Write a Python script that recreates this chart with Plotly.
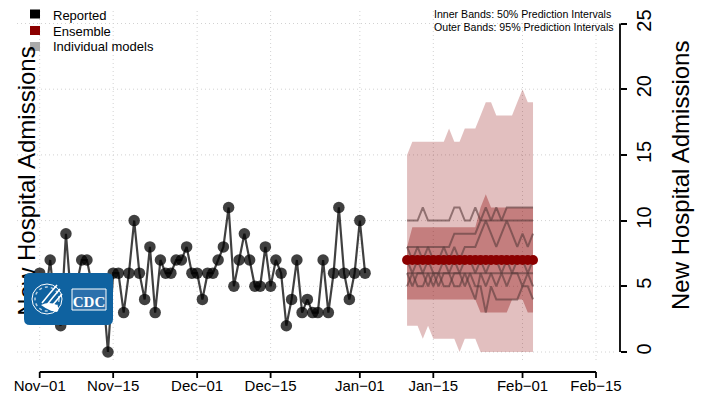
import pandas as pd
import plotly.graph_objects as go

# reported daily admissions, from Nov-01
reported = [6, 4, 7, 3, 2, 9, 4, 5, 7, 7, 5, 3, 5, 0, 6, 6, 3, 6, 10, 6,
            4, 8, 3, 7, 6, 6, 7, 7, 8, 6, 6, 4, 6, 6, 7, 8, 11, 5, 7, 9,
            7, 5, 5, 8, 5, 7, 6, 2, 4, 7, 3, 4, 3, 3, 7, 3, 6, 11, 6, 4,
            6, 10, 6]

# forecast, Jan-10 .. Feb-03
ensemble = [7] * 25
outer_upper = [15, 16, 16, 16, 16, 16, 16, 16, 17, 16, 16, 17, 17, 17, 18, 19, 19, 18, 18, 18, 18, 19, 20, 19, 19]
outer_lower = [2, 2, 2, 1, 2, 1, 1, 1, 1, 1, 0, 1, 1, 1, 0, 0, 0, 0, 0, 0, 0, 0, 0, 0, 0]
inner_upper = [8, 9.5, 9.5, 9.5, 9.5, 9.5, 9.5, 9.5, 9.5, 9.5, 9.5, 9.5, 9.5, 9.5, 11, 12, 11, 11, 11, 11, 11, 11, 11, 11, 11]
inner_lower = [4, 4, 4, 4, 4, 4, 4, 4, 4, 4, 4, 4, 4, 4, 3, 3, 3, 3, 3, 3, 4, 4, 4, 3, 3]

models = [
    [10, 10, 10, 11, 10, 10, 10, 10, 10, 11, 11, 10, 10, 11, 10, 11, 10, 11, 10, 11, 11, 11, 11, 11, 11],
    [8, 8, 8, 8, 8, 8, 8, 8, 8, 9, 9, 9, 9, 9, 10, 10, 10, 10, 10, 10, 10, 10, 10, 10, 10],
    [8, 7, 8, 7, 8, 7, 7, 8, 7, 8, 7, 8, 8, 8, 9, 10, 9, 8, 9, 10, 9, 8, 9, 8, 9],
    [7, 6, 7, 6, 7, 6, 6, 7, 6, 7, 6, 7, 7, 6, 7, 6, 7, 7, 6, 7, 6, 7, 7, 6, 7],
    [6] * 25,
    [5, 6, 5, 5, 6, 5, 6, 5, 5, 6, 6, 5, 6, 5, 5, 3, 5, 4, 4, 4, 4, 4, 5, 5, 4],
    [6, 5, 6, 6, 5, 6, 5, 6, 6, 5, 5, 6, 5, 4, 6, 5, 6, 5, 6, 5, 6, 6, 5, 6, 5],
]

tick_dates = ["2023-11-01", "2023-11-15", "2023-12-01", "2023-12-15",
              "2024-01-01", "2024-01-15", "2024-02-01", "2024-02-15"]
tick_text = ["Nov\u221201", "Nov\u221215", "Dec\u221201", "Dec\u221215",
             "Jan\u221201", "Jan\u221215", "Feb\u221201", "Feb\u221215"]
y_ticks = [0, 5, 10, 15, 20, 25]

start = pd.Timestamp("2023-11-01")
rep_dates = [start + pd.Timedelta(days=i) for i in range(len(reported))]
fc_dates = [pd.Timestamp("2024-01-10") + pd.Timedelta(days=i) for i in range(len(ensemble))]

FONT = "Liberation Sans, Arial, sans-serif"
OFF = 8  # page body margin
W, H = 707, 401
PL, PR, PT, PB = 17, 620, 8, 372


def px(x):
    return (x - PL) / (PR - PL)


def py(y):
    return (PB - y) / (PB - PT)


day_px = (596 - 39.7) / 106
x_range = [start - pd.Timedelta(days=(39.7 - PL) / day_px),
           pd.Timestamp("2024-02-15") + pd.Timedelta(days=(PR - 596) / day_px)]
unit_px = 13.14
y_range = [-(PB - 352) / unit_px, (352 - PT) / unit_px]

fig = go.Figure()

# prediction bands
fig.add_trace(go.Scatter(x=fc_dates + fc_dates[::-1], y=outer_upper + outer_lower[::-1],
                         fill="toself", fillcolor="rgba(139,0,0,0.25)", line=dict(width=0),
                         mode="lines", hoverinfo="skip", showlegend=False))
fig.add_trace(go.Scatter(x=fc_dates + fc_dates[::-1], y=inner_upper + inner_lower[::-1],
                         fill="toself", fillcolor="rgba(139,0,0,0.34)", line=dict(width=0),
                         mode="lines", hoverinfo="skip", showlegend=False))

# individual models
for m in models:
    fig.add_trace(go.Scatter(x=fc_dates, y=m, mode="lines",
                             line=dict(color="rgba(90,60,60,0.6)", width=2),
                             showlegend=False))

# ensemble
fig.add_trace(go.Scatter(x=fc_dates, y=ensemble, mode="lines+markers",
                         line=dict(color="#8B0000", width=6),
                         marker=dict(color="#8B0000", size=10), showlegend=False))

# reported
fig.add_trace(go.Scatter(x=rep_dates, y=reported, mode="lines+markers",
                         line=dict(color="rgba(0,0,0,0.75)", width=2.2),
                         marker=dict(color="rgba(0,0,0,0.75)", size=11.5), showlegend=False))

shapes = []
grid = dict(color="#D2D2D2", width=1, dash="1px,3px")
for d in tick_dates:
    shapes.append(dict(type="line", xref="x", yref="paper", x0=d, x1=d,
                       y0=py(360), y1=1, line=grid, layer="below"))
for v in y_ticks:
    shapes.append(dict(type="line", xref="paper", yref="y", x0=0, x1=px(615),
                       y0=v, y1=v, line=grid, layer="below"))

# axis lines and x ticks
axis = dict(color="black", width=1.8)
shapes.append(dict(type="line", xref="x", yref="paper", x0=tick_dates[0], x1=tick_dates[-1],
                   y0=0, y1=0, line=axis))
for d in tick_dates:
    shapes.append(dict(type="line", xref="x", yref="paper", x0=d, x1=d,
                       y0=0, y1=py(378), line=axis))
shapes.append(dict(type="line", xref="paper", yref="y", x0=1, x1=1, y0=0, y1=25, line=axis))

# legend squares
for yc, col in [(14, "black"), (30.5, "#8B0000"), (46.5, "#AAAAAA")]:
    shapes.append(dict(type="rect", xref="paper", yref="paper",
                       x0=px(30), x1=px(40), y0=py(yc + 4.5), y1=py(yc - 4.5),
                       fillcolor=col, line=dict(width=0)))

# left title (drawn below the logo)
shapes.append(dict(type="rect", xref="paper", yref="paper",
                   x0=px(12), x1=px(36), y0=py(320), y1=py(42),
                   line=dict(width=0), fillcolor="rgba(0,0,0,0)",
                   label=dict(text="New Hospital Admissions", textangle=-90,
                              textposition="middle center",
                              font=dict(family=FONT, size=24, color="black"))))

# CDC logo
x0, x1, y0, y1, r = 24, 113, 273, 325, 6


def P(x, y):
    return f"{px(x):.5f},{py(y):.5f}"


logo = (f"M {P(x0 + r, y0)} L {P(x1 - r, y0)} Q {P(x1, y0)} {P(x1, y0 + r)} "
        f"L {P(x1, y1 - r)} Q {P(x1, y1)} {P(x1 - r, y1)} L {P(x0 + r, y1)} "
        f"Q {P(x0, y1)} {P(x0, y1 - r)} L {P(x0, y0 + r)} Q {P(x0, y0)} {P(x0 + r, y0)} Z")
shapes.append(dict(type="path", xref="paper", yref="paper", path=logo,
                   fillcolor="#0F62A0", line=dict(width=0)))
shapes.append(dict(type="circle", xref="paper", yref="paper",
                   x0=px(32), x1=px(62), y0=py(314), y1=py(284),
                   line=dict(color="white", width=1)))
shapes.append(dict(type="circle", xref="paper", yref="paper",
                   x0=px(35), x1=px(59), y0=py(311), y1=py(287),
                   line=dict(color="rgba(255,255,255,0.7)", width=1.5, dash="dot")))
for a, b, c in [((57, 285), (50, 293), (42, 303)),
                ((60, 289), (53, 297), (46, 306)),
                ((62, 294), (57, 300), (50, 308))]:
    shapes.append(dict(type="path", xref="paper", yref="paper",
                       path=f"M {P(*a)} Q {P(*b)} {P(*c)}",
                       line=dict(color="white", width=1.6)))
shapes.append(dict(type="path", xref="paper", yref="paper",
                   path=f"M {P(41, 305)} Q {P(49, 301)} {P(57, 305)} Q {P(60, 309)} {P(57, 312)} "
                        f"Q {P(49, 311)} {P(41, 305)} Z",
                   fillcolor="white", line=dict(width=0)))
shapes.append(dict(type="rect", xref="paper", yref="paper",
                   x0=px(72), x1=px(106), y0=py(310), y1=py(289),
                   fillcolor="#2C70AC", line=dict(color="white", width=1),
                   label=dict(text="<b>CDC</b>", textposition="middle center",
                              font=dict(family="Liberation Serif, serif", size=15, color="white"))))

annotations = []
for yc, txt in [(15, "Reported"), (31, "Ensemble"), (46.5, "Individual models")]:
    annotations.append(dict(text=txt, xref="paper", yref="paper", x=px(51), y=py(yc),
                            xanchor="left", yanchor="middle", showarrow=False,
                            font=dict(family=FONT, size=13, color="black")))
for yc, txt in [(14, "Inner Bands: 50% Prediction Intervals"),
                (27, "Outer Bands: 95% Prediction Intervals")]:
    annotations.append(dict(text=txt, xref="paper", yref="paper", x=px(432), y=py(yc),
                            xanchor="left", yanchor="middle", showarrow=False,
                            font=dict(family=FONT, size=10.6, color="black")))
annotations.append(dict(text="New Hospital Admissions", xref="paper", yref="paper",
                        x=px(680), y=py(176), xanchor="center", yanchor="middle",
                        textangle=-90, showarrow=False,
                        font=dict(family=FONT, size=24, color="black")))

# the page adds an 8px body margin, so the figure is shifted up-left by OFF
fig.update_layout(
    width=W - OFF, height=H - OFF,
    margin=dict(l=PL - OFF, r=W - PR, t=PT - OFF, b=H - PB),
    paper_bgcolor="white", plot_bgcolor="white",
    font=dict(family=FONT, color="black"),
    shapes=shapes, annotations=annotations, showlegend=False,
)
fig.update_xaxes(range=x_range, tickvals=tick_dates, ticktext=tick_text, ticks="",
                 ticklabelstandoff=3,
                 showgrid=False, zeroline=False, showline=False, automargin=False,
                 tickfont=dict(size=15))
fig.update_yaxes(range=y_range, side="right", tickvals=y_ticks, tickangle=-90,
                 ticks="outside", ticklen=6, tickwidth=1.8, tickcolor="black",
                 showgrid=False, zeroline=False, showline=False, automargin=False,
                 tickfont=dict(size=20))

fig.write_html("out.html")
